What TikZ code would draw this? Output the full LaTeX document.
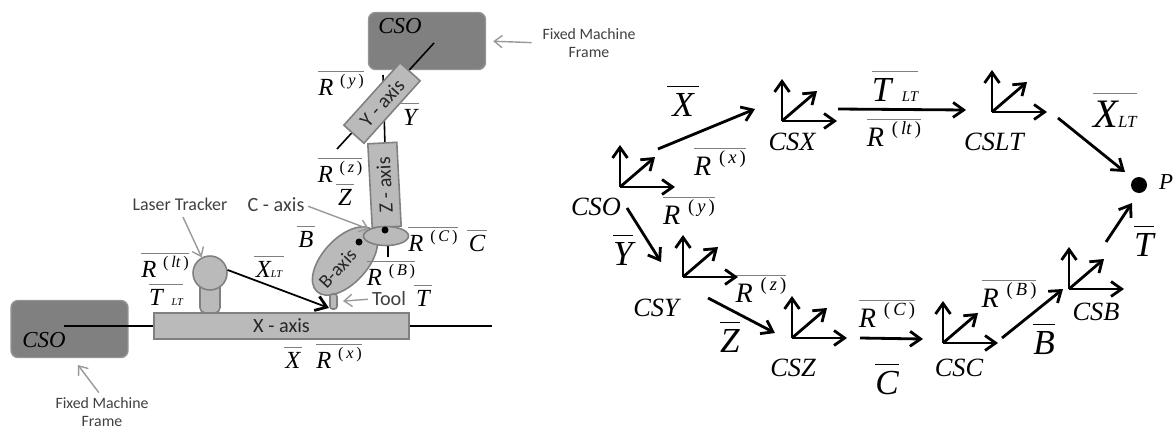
\documentclass[tikz,border=0pt]{standalone}
\usepackage{fontspec}
\setmainfont{Liberation Serif}
\newfontfamily\labelfont{Carlito}
\usetikzlibrary{arrows.meta,%
                shapes.geometric}

\newcommand{\ovl}[2][black]{\textcolor{#1}{$\overline{\textcolor{black}{\mbox{\rule{0pt}{.76em}#2}}}$}}
\newcommand{\rlab}[1]{\ovl[gray]{\itshape R\hspace{.28em}\raisebox{.4em}{\scalebox{.66}{\upshape(\,\itshape #1\/\upshape\,)}}}}
\newcommand{\barlab}[1]{\ovl[gray]{\itshape\hspace{.08em}#1\hspace{.08em}}}
\newcommand{\lt}{\raisebox{-.02em}{\scalebox{.42}{LT}}}

\tikzset{pics/axes/.style={code={
    \coordinate (-o) at (0,0);
    \coordinate (-u) at (0,-42);
    \coordinate (-r) at (55,0);
    \coordinate (-d) at (35,-30);
    \draw[axis] (-o) -- (-u);
    \draw[axis] (-o) -- (-r);
    \draw[axis] (-o) -- (-d);
}}}

\begin{document}
\begin{tikzpicture}[x=0.02cm,y=-0.02cm]
    \tikzstyle{axis}=[line width=1.6pt,-{Straight Barb[length=6pt,width=8.5pt,line width=1.6pt]}]
    \tikzstyle{rail}=[line width=0.9pt]
    \tikzstyle{pointer}=[line width=0.8pt,color=black!40,-{Straight Barb[length=4.5pt,width=7pt]}]
    \tikzstyle{frame}=[draw=black!42,line width=0.8pt,fill=black!50,rounded corners=4pt,minimum width=2.34cm,minimum height=1.14cm,inner sep=0pt]
    \tikzstyle{part}=[draw=black!50,line width=0.9pt,fill=black!27,inner sep=0pt,text=black!85,font=\labelfont\fontsize{11.5}{13}\selectfont]
    \tikzstyle{tag}=[text=black!75,font=\labelfont\fontsize{10.2}{12}\selectfont,align=center,inner sep=0pt]
    \tikzstyle{small}=[anchor=base,inner sep=0pt,font=\fontsize{14}{16}\selectfont]
    \tikzstyle{mid}=[anchor=base,inner sep=0pt,font=\fontsize{16}{18}\selectfont]
    \tikzstyle{big}=[anchor=base,inner sep=0pt,font=\fontsize{20}{22}\selectfont]
    \tikzstyle{csname}=[anchor=base,inner sep=0pt,font=\itshape\fontsize{15}{17}\selectfont]
    \useasboundingbox (0,0) rectangle (1174,430);

    % machine, left side
    \node[frame] (frameLow) at (69.5,329) {};
    \node[frame] (frameTop) at (427,41) {};
    \node[part,minimum width=5.1cm,minimum height=0.52cm] (xaxis) at (281.5,326) {X - axis};
    \coordinate (railLow) at (64,326);
    \coordinate (railEnd) at (492,326);
    \draw[rail] (railLow) -- (xaxis.west);
    \draw[rail] (xaxis.east) -- (railEnd);
    \coordinate (railTopA) at (434,43);
    \coordinate (railTopB) at (337,149);
    \coordinate (railZA) at (383,75);
    \coordinate (railZB) at (385,146);
    \coordinate (railCA) at (388,244);
    \coordinate (railCB) at (388,257);
    \draw[rail] (railTopA) -- (railTopB);
    \draw[rail] (railZA) -- (railZB);
    \draw[rail] (railCA) -- (railCB);
    \node[part,rotate=48,minimum width=1.68cm,minimum height=0.54cm] (yaxis) at (382,103) {Y - axis};
    \node[part,rotate=93,minimum width=1.68cm,minimum height=0.58cm] (zaxis) at (384.5,185) {Z - axis};
    \node[part,ellipse,rotate=47.5,minimum width=1.66cm,minimum height=0.9cm] (baxis) at (345,261) {};
    \node[rotate=47.5,text=black!85,font=\labelfont\fontsize{11}{13}\selectfont,inner sep=0pt] (baxisLbl) at (337.5,268.5) {B-axis};
    \node[part,ellipse,minimum width=0.9cm,minimum height=0.38cm] (cjoint) at (386,236) {};
    \node[circle,fill=black,minimum size=0.14cm,inner sep=0pt] (cdot) at (385,230) {};
    \node[circle,fill=black,minimum size=0.14cm,inner sep=0pt] (bdot) at (359,242) {};
    \node[part,rounded corners=1.5pt,minimum width=0.14cm,minimum height=0.3cm] (tool) at (333.5,301.5) {};
    \node[part,rounded corners=3pt,minimum width=0.4cm,minimum height=0.62cm] (stem) at (210,297.5) {};
    \node[part,circle,minimum size=0.68cm] (tracker) at (210,273) {};
    \coordinate (toolTip) at (329,308);
    \draw[axis,line width=1pt] (tracker.10) -- (toolTip);

    \node[tag] (laserLbl) at (180,204) {Laser Tracker};
    \node[tag,font=\labelfont\fontsize{11.5}{13}\selectfont] (caxisLbl) at (276,205) {C - axis};
    \node[tag,font=\labelfont\fontsize{11.5}{13}\selectfont] (toolLbl) at (389,299) {Tool};
    \node[tag,font=\labelfont\fontsize{9}{10.5}\selectfont] (fixedTop) at (589,43) {Fixed Machine\\Frame};
    \node[tag,font=\labelfont\fontsize{9}{10.5}\selectfont] (fixedLow) at (102,412) {Fixed Machine\\Frame};
    \coordinate (frameLowTip) at (78,365);
    \draw[pointer,shorten <=4pt] (laserLbl.south) -- (tracker.118);
    \draw[pointer,shorten <=2pt] (caxisLbl.east) -- (cjoint.158);
    \draw[pointer,shorten <=2pt,shorten >=3pt] (toolLbl.west) -- (tool.east);
    \draw[pointer,shorten <=6pt,shorten >=4pt] (fixedTop.west) -- (frameTop.east);
    \draw[pointer,shorten <=3pt] (fixedLow.north) -- (frameLowTip);

    \node[csname,font=\itshape\fontsize{13}{15}\selectfont] (csoLow) at (44,347) {CSO};
    \node[csname,font=\itshape\fontsize{13}{15}\selectfont] (csoTop) at (400,33) {CSO};
    \node[small] (ry) at (341,95) {\rlab{y}};
    \node[small] (ybar) at (410,125) {\barlab{Y}};
    \node[small] (rz) at (340,182) {\rlab{z}};
    \node[small] (zbar) at (345,205) {\barlab{Z}};
    \node[small] (bbar) at (306,247) {\barlab{B}};
    \node[small] (rc) at (433,251) {\rlab{C}};
    \node[small] (cbar) at (477,251) {\barlab{C}};
    \node[small] (rb) at (391,285) {\rlab{B}};
    \node[small] (tbar) at (423,306) {\barlab{T}};
    \node[small] (rx) at (339,368) {\rlab{x}};
    \node[small] (xbar) at (293,368) {\barlab{X}};
    \node[small] (xlt) at (269,277) {\ovl[gray]{\itshape\hspace{.08em}X\lt\hspace{.08em}}};
    \node[small] (rlt) at (165,277) {\rlab{lt}};
    \node[small] (tlt) at (166,305) {\ovl[gray]{\itshape T\hspace{.35em}\lt}};

    % frames, right side
    \pic (cso) at (620,187) {axes};
    \pic (csx) at (782,121) {axes};
    \pic (cslt) at (992,112) {axes};
    \pic (csy) at (683,277) {axes};
    \pic (csz) at (792,338) {axes};
    \pic (csc) at (943,343) {axes};
    \pic (csb) at (1069,289) {axes};
    \node[circle,fill=black,minimum size=0.32cm,inner sep=0pt] (p) at (1139,185) {};

    \coordinate (xFrom) at (658,149);
    \coordinate (xTo) at (755,109);
    \coordinate (tltFrom) at (838,109);
    \coordinate (tltTo) at (966,110);
    \coordinate (xltFrom) at (1058,118);
    \coordinate (xltTo) at (1125,172);
    \coordinate (yFrom) at (627,208);
    \coordinate (yTo) at (661,262);
    \coordinate (zFrom) at (708,298);
    \coordinate (zTo) at (775,333);
    \coordinate (cFrom) at (860,338);
    \coordinate (cTo) at (923,339);
    \coordinate (bFrom) at (1002,338);
    \coordinate (bTo) at (1063,289);
    \coordinate (tFrom) at (1106,242);
    \coordinate (tTo) at (1132,203);
    \draw[axis] (xFrom) -- (xTo);
    \draw[axis] (tltFrom) -- (tltTo);
    \draw[axis] (xltFrom) -- (xltTo);
    \draw[axis] (yFrom) -- (yTo);
    \draw[axis] (zFrom) -- (zTo);
    \draw[axis] (cFrom) -- (cTo);
    \draw[axis] (bFrom) -- (bTo);
    \draw[axis] (tFrom) -- (tTo);

    \node[csname] (csoName) at (596,215) {CSO};
    \node[csname] (csxName) at (792,150) {CSX};
    \node[csname] (csltName) at (994,150) {CSLT};
    \node[csname] (csyName) at (656,316) {CSY};
    \node[csname] (cszName) at (793,376) {CSZ};
    \node[csname] (cscName) at (959,376) {CSC};
    \node[csname] (csbName) at (1096,320) {CSB};
    \node[anchor=base,inner sep=0pt,font=\itshape\fontsize{13}{15}\selectfont] (pName) at (1166,189) {P};

    \node[big] (xBig) at (683,116) {\ovl{\itshape\hspace{.15em}X\hspace{.15em}}};
    \node[mid] (rxBig) at (720,175) {\rlab{x}};
    \node[mid] (ryBig) at (689,224) {\rlab{y}};
    \node[big] (tltBig) at (895,101) {\ovl[gray]{\itshape T\hspace{.3em}\lt}};
    \node[mid] (rltBig) at (894,146) {\rlab{lt}};
    \node[big,font=\fontsize{23}{25}\selectfont] (xltBig) at (1115,127) {\ovl[gray]{\itshape X\lt}};
    \node[big] (tBig) at (1144,256) {\ovl{\itshape T}};
    \node[big] (yBig) at (623,265) {\ovl{\itshape Y}};
    \node[big] (zBig) at (730,352) {\ovl{\itshape Z}};
    \node[mid] (rzBig) at (761,302) {\rlab{z}};
    \node[big] (cBig) at (887,394) {\ovl{\itshape C}};
    \node[mid] (rcBig) at (887,327) {\rlab{C}};
    \node[mid] (rbBig) at (1009,307) {\rlab{B}};
    \node[big] (bBig) at (1044,354) {\ovl{\itshape B}};
\end{tikzpicture}
\end{document}
